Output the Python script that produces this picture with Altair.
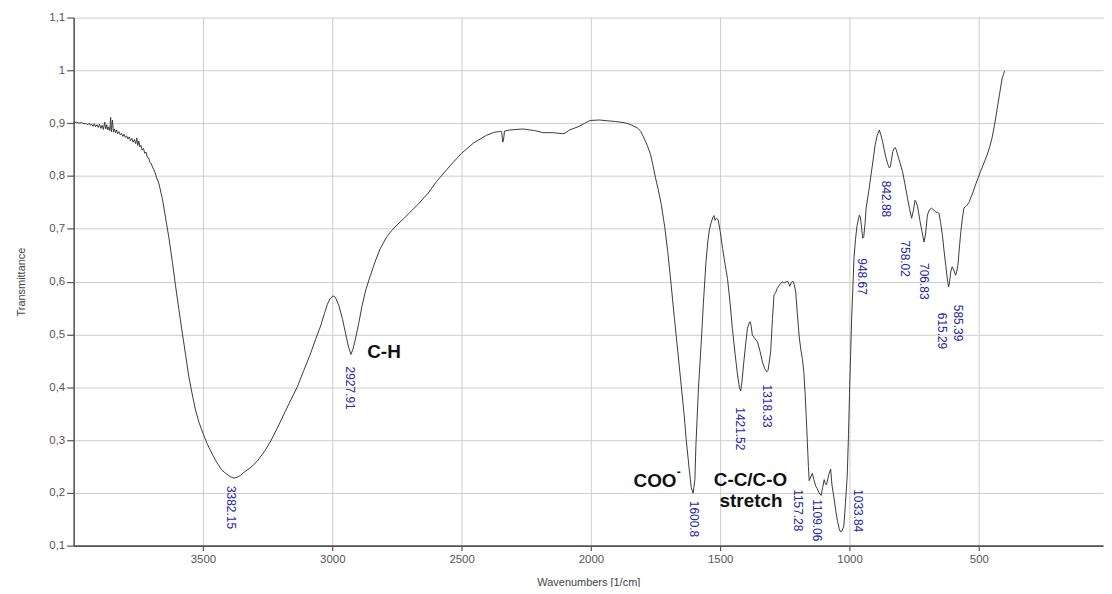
import altair as alt
import pandas as pd

# ---- spectrum (wavenumber in 1/cm, transmittance) ----
wavenumber = [
    4000, 3990, 3980, 3970, 3960, 3950, 3945, 3940, 3935, 3930, 3925, 3920, 3915, 3910, 3905,
    3900, 3895, 3890, 3885, 3880, 3876, 3872, 3868, 3864, 3860, 3857, 3854, 3850, 3846, 3842,
    3838, 3834, 3830, 3825, 3820, 3815, 3810, 3805, 3800, 3795, 3790, 3785, 3780, 3775, 3770,
    3765, 3760, 3756, 3752, 3748, 3744, 3740, 3735, 3730, 3725, 3720, 3715, 3710, 3705, 3700,
    3695, 3690, 3685, 3680, 3670, 3657, 3645, 3631, 3618, 3606, 3593, 3580, 3567, 3555, 3542,
    3529, 3515, 3500, 3483, 3466, 3446, 3427, 3410, 3395, 3383, 3370, 3355, 3338, 3310, 3287,
    3260, 3236, 3210, 3185, 3160, 3134, 3110, 3083, 3065, 3045, 3030, 3019, 3008, 2997, 2988,
    2974, 2960, 2949, 2938, 2928, 2920, 2911, 2898, 2885, 2870, 2853, 2835, 2815, 2790, 2770,
    2746, 2720, 2700, 2669, 2630, 2596, 2545, 2500, 2455, 2404, 2372, 2353, 2345, 2341, 2338, 2334,
    2314, 2263, 2218, 2186, 2147, 2110, 2100, 2083, 2045, 2020, 2003, 1968, 1904, 1870, 1846,
    1821, 1808, 1795, 1782, 1769, 1760, 1750, 1740, 1728, 1715, 1703, 1690, 1677, 1664, 1651,
    1640, 1632, 1620, 1612, 1605, 1598, 1594, 1584, 1574, 1565, 1555, 1548, 1542, 1535, 1528,
    1524, 1520, 1515, 1508, 1500, 1491, 1482, 1472, 1462, 1453, 1443, 1433, 1426, 1421, 1416,
    1410, 1402, 1395, 1388, 1384, 1380, 1376, 1366, 1356, 1346, 1337, 1328, 1320, 1315, 1305,
    1298, 1292, 1285, 1280, 1270, 1260, 1253, 1245, 1238, 1231, 1225, 1220, 1214, 1208, 1202,
    1195, 1188, 1182, 1177, 1172, 1167, 1163, 1159, 1156, 1150, 1144, 1138, 1131, 1125, 1118,
    1110, 1104, 1098, 1094, 1090, 1086, 1080, 1073, 1068, 1060, 1053, 1047, 1040, 1035, 1029,
    1022, 1016, 1009, 1004, 1000, 996, 992, 987, 983, 977, 971, 962, 958, 953, 949,
    945, 940, 936, 926, 917, 909, 901, 893, 885, 879, 872, 866, 859, 852, 846,
    842, 838, 833, 828, 824, 819, 814, 805, 795, 786, 776, 768, 760, 753, 747,
    742, 737, 732, 727, 720, 712, 706, 699, 691, 683, 675, 667, 660, 654, 648,
    641, 635, 628, 622, 617, 613, 609, 603, 597, 590, 585, 581, 576, 571, 565,
    558, 551, 545, 538, 532, 522, 513, 504, 494, 480, 468, 458, 449, 440, 429,
    420, 410, 405, 401,
]
transmittance = [
    0.901, 0.902, 0.900, 0.901, 0.899, 0.899, 0.897, 0.900, 0.896, 0.898, 0.894, 0.899, 0.893, 0.897, 0.892,
    0.898, 0.890, 0.896, 0.888, 0.902, 0.889, 0.897, 0.887, 0.893, 0.886, 0.911, 0.884, 0.906, 0.883, 0.889,
    0.882, 0.887, 0.880, 0.884, 0.878, 0.881, 0.875, 0.879, 0.873, 0.876, 0.870, 0.874, 0.867, 0.871, 0.864,
    0.869, 0.861, 0.872, 0.858, 0.866, 0.855, 0.858, 0.849, 0.852, 0.843, 0.845, 0.835, 0.834, 0.826, 0.823,
    0.817, 0.812, 0.806, 0.798, 0.785, 0.757, 0.722, 0.681, 0.636, 0.592, 0.547, 0.503, 0.461, 0.421, 0.388,
    0.357, 0.333, 0.313, 0.292, 0.275, 0.257, 0.243, 0.236, 0.231, 0.228, 0.229, 0.233, 0.240, 0.250, 0.262,
    0.280, 0.300, 0.325, 0.351, 0.376, 0.402, 0.432, 0.465, 0.490, 0.516, 0.540, 0.557, 0.568, 0.573, 0.570,
    0.554, 0.528, 0.503, 0.478, 0.462, 0.472, 0.490, 0.520, 0.554, 0.585, 0.611, 0.637, 0.662, 0.684, 0.697,
    0.709, 0.721, 0.731, 0.746, 0.767, 0.790, 0.819, 0.843, 0.862, 0.877, 0.883, 0.884, 0.884, 0.864, 0.868, 0.885,
    0.887, 0.889, 0.886, 0.882, 0.882, 0.880, 0.881, 0.887, 0.894, 0.901, 0.905, 0.906, 0.903, 0.901, 0.897,
    0.891, 0.885, 0.872, 0.858, 0.840, 0.820, 0.796, 0.775, 0.746, 0.705, 0.657, 0.595, 0.530, 0.467, 0.404,
    0.350, 0.303, 0.245, 0.210, 0.199, 0.225, 0.290, 0.400, 0.480, 0.560, 0.638, 0.675, 0.698, 0.712, 0.722,
    0.725, 0.716, 0.720, 0.717, 0.695, 0.663, 0.635, 0.606, 0.560, 0.511, 0.465, 0.423, 0.400, 0.393, 0.410,
    0.442, 0.480, 0.511, 0.522, 0.524, 0.515, 0.499, 0.492, 0.486, 0.468, 0.448, 0.435, 0.429, 0.432, 0.467,
    0.530, 0.575, 0.580, 0.587, 0.594, 0.600, 0.597, 0.600, 0.600, 0.591, 0.598, 0.601, 0.595, 0.580, 0.540,
    0.497, 0.470, 0.453, 0.430, 0.390, 0.340, 0.295, 0.250, 0.223, 0.230, 0.237, 0.225, 0.213, 0.208, 0.200,
    0.195, 0.210, 0.225, 0.218, 0.215, 0.222, 0.235, 0.245, 0.215, 0.190, 0.165, 0.148, 0.132, 0.126, 0.128,
    0.137, 0.180, 0.232, 0.310, 0.390, 0.460, 0.529, 0.590, 0.643, 0.680, 0.706, 0.726, 0.722, 0.700, 0.682,
    0.685, 0.710, 0.739, 0.770, 0.802, 0.830, 0.859, 0.877, 0.887, 0.878, 0.865, 0.850, 0.834, 0.822, 0.815,
    0.818, 0.830, 0.846, 0.852, 0.854, 0.849, 0.840, 0.825, 0.808, 0.785, 0.758, 0.738, 0.720, 0.735, 0.754,
    0.750, 0.742, 0.728, 0.713, 0.695, 0.675, 0.690, 0.726, 0.736, 0.739, 0.736, 0.732, 0.731, 0.729, 0.712,
    0.688, 0.660, 0.631, 0.605, 0.590, 0.600, 0.618, 0.628, 0.622, 0.612, 0.620, 0.631, 0.660, 0.688, 0.715,
    0.739, 0.742, 0.745, 0.750, 0.758, 0.770, 0.783, 0.795, 0.808, 0.825, 0.840, 0.855, 0.872, 0.895, 0.928,
    0.955, 0.985, 0.992, 0.999,
]

# ---- peak labels (text, anchor wavenumber, anchor transmittance at top of label) ----
peak_text = ["3382.15", "2927.91", "1600.8", "1421.52", "1318.33", "1157.28", "1109.06",
             "1033.84", "948.67", "842.88", "758.02", "706.83", "615.29", "585.39"]
peak_x = [3390, 2932, 1600, 1423, 1319, 1201, 1124, 969, 950, 861, 785, 711, 642, 581]
peak_y = [0.213, 0.439, 0.185, 0.362, 0.405, 0.207, 0.188, 0.207, 0.644, 0.791, 0.678, 0.635, 0.541, 0.556]

# ---- band annotations ----
band_text = ["C-H", "COO", "C-C/C-O", "stretch"]
band_x = [2800, 1752, 1383, 1381]
band_y = [0.456, 0.211, 0.213, 0.173]
sup_text = ["-"]
sup_x = [1660]
sup_y = [0.232]

x_ticks = [3500, 3000, 2500, 2000, 1500, 1000, 500]
y_ticks = [0.1, 0.2, 0.3, 0.4, 0.5, 0.6, 0.7, 0.8, 0.9, 1.0, 1.1]

spec = pd.DataFrame({"wn": wavenumber, "T": transmittance})
peaks = pd.DataFrame({"label": peak_text, "wn": peak_x, "T": peak_y})
bands = pd.DataFrame({"label": band_text, "wn": band_x, "T": band_y})
sups = pd.DataFrame({"label": sup_text, "wn": sup_x, "T": sup_y})

FONT = "Liberation Sans"

x_enc = alt.X("wn:Q",
              scale=alt.Scale(domain=[20, 4000], reverse=True, nice=False, zero=False),
              axis=alt.Axis(title="Wavenumbers [1/cm]", values=x_ticks, format="d"))
y_enc = alt.Y("T:Q",
              scale=alt.Scale(domain=[0.1, 1.1], nice=False, zero=False),
              axis=alt.Axis(title="Transmittance", values=y_ticks,
                            labelExpr="replace(format(datum.value, '.1~f'), '.', ',')"))

line = alt.Chart(spec).mark_line(color="#3a3a3a", strokeWidth=1).encode(
    x=x_enc, y=y_enc, order=alt.Order("idx:Q")
).transform_window(idx="row_number()")

peak_layer = alt.Chart(peaks).mark_text(
    angle=90, align="left", baseline="middle", color="#2525a5",
    fontSize=12, font=FONT
).encode(x="wn:Q", y="T:Q", text="label:N")

band_layer = alt.Chart(bands).mark_text(
    align="center", baseline="alphabetic", color="#111111",
    fontSize=19, fontWeight="bold", font=FONT
).encode(x="wn:Q", y="T:Q", text="label:N")

sup_layer = alt.Chart(sups).mark_text(
    align="center", baseline="alphabetic", color="#111111",
    fontSize=12, fontWeight="bold", font=FONT
).encode(x="wn:Q", y="T:Q", text="label:N")

chart = alt.layer(line, peak_layer, band_layer, sup_layer).properties(
    width=1035, height=531,
    autosize=alt.AutoSizeParams(type="none"),
    padding={"left": 66, "top": 8, "right": 1, "bottom": 40},
    background="white",
).configure_view(stroke=None).configure_axis(
    grid=True, gridColor="#cdcdcd", gridWidth=1,
    domainColor="#555555", domainWidth=1.6,
    tickColor="#555555", tickWidth=1.2,
    labelFont=FONT, labelFontSize=11.5, labelColor="#555555",
    titleFont=FONT, titleFontSize=11, titleColor="#444444", titleFontWeight="normal",
).configure_axisX(
    tickSize=5, labelPadding=3, titlePadding=12,
).configure_axisY(
    tickSize=7, labelPadding=2, titlePadding=22,
)

chart.save("out.html", embed_options={"renderer": "svg", "actions": False})
